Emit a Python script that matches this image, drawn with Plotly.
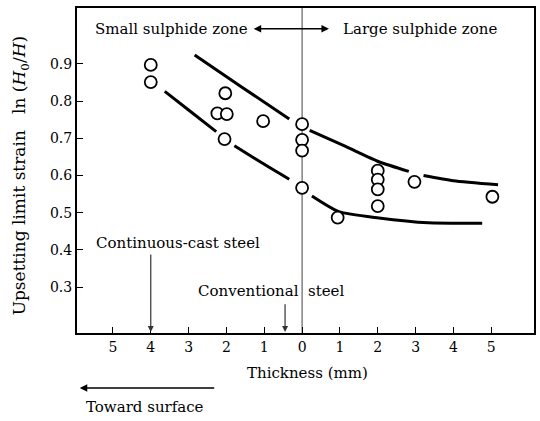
import plotly.graph_objects as go

# ---- data (thickness in mm; negative = toward surface side) ----
pts_x = [-4.0, -4.0, -2.03, -2.24, -1.99, -1.03, -2.05, 0.0, 0.0, 0.0, 0.0,
         0.94, 2.0, 2.0, 2.0, 2.0, 2.97, 5.03]
pts_y = [0.897, 0.851, 0.821, 0.767, 0.765, 0.746, 0.698, 0.738, 0.696, 0.667, 0.567,
         0.487, 0.613, 0.589, 0.563, 0.518, 0.583, 0.543]

# fitted band curves (None = break in the printed line next to a circle)
upper_x = [-2.84, -1.6, -0.34, None, 0.2, 1.15, 2.03, 2.82, None, 3.21, 4.0, 5.18]
upper_y = [0.924, 0.838, 0.752, None, 0.721, 0.678, 0.637, 0.611, None, 0.600, 0.586, 0.575]

lower_x = [-3.63, -2.95, -2.27, None, -1.79, -0.87, -0.34, None, 0.26, 0.97, 2.03, 3.34, 4.76]
lower_y = [0.826, 0.772, 0.718, None, 0.680, 0.622, 0.590, None, 0.545, 0.503, 0.486, 0.473, 0.472]

x_ticks = [-5, -4, -3, -2, -1, 0, 1, 2, 3, 4, 5]
x_ticktext = ["5", "4", "3", "2", "1", "0", "1", "2", "3", "4", "5"]
y_ticks = [0.3, 0.4, 0.5, 0.6, 0.7, 0.8, 0.9]
y_ticktext = ["0.3", "0.4", "0.5", "0.6", "0.7", "0.8", "0.9"]

FONT = "DejaVu Serif"
fig = go.Figure()

fig.add_trace(go.Scatter(x=upper_x, y=upper_y, mode="lines", connectgaps=False,
                         line=dict(color="black", width=3, shape="spline", smoothing=0.6),
                         hoverinfo="skip", showlegend=False))
fig.add_trace(go.Scatter(x=lower_x, y=lower_y, mode="lines", connectgaps=False,
                         line=dict(color="black", width=3, shape="spline", smoothing=0.6),
                         hoverinfo="skip", showlegend=False))
fig.add_trace(go.Scatter(x=pts_x, y=pts_y, mode="markers",
                         marker=dict(symbol="circle", size=12, color="white",
                                     line=dict(color="black", width=1.8)),
                         showlegend=False))

# vertical zero line
fig.add_shape(type="line", xref="x", yref="paper", x0=0, x1=0, y0=0, y1=1,
              line=dict(color="#555555", width=1.1), layer="below")

tf = dict(family=FONT, size=15, color="black")
tick_f = dict(family=FONT, size=14, color="black")
ann = []
# zone labels
ann.append(dict(x=-1.38, y=0.994, xref="x", yref="y", text="Small sulphide zone",
                showarrow=False, xanchor="right", yanchor="middle", font=tf))
ann.append(dict(x=1.02, y=0.994, xref="x", yref="y", text="Large sulphide zone",
                showarrow=False, xanchor="left", yanchor="middle", font=tf))
ann.append(dict(x=0.71, y=0.994, ax=-1.32, ay=0.994, xref="x", yref="y", axref="x", ayref="y",
                text="", showarrow=True, arrowhead=2, arrowside="end+start", arrowsize=1,
                arrowwidth=1.5, arrowcolor="black"))
# continuous-cast steel
ann.append(dict(x=-3.29, y=0.419, xref="x", yref="y", text="Continuous-cast steel",
                showarrow=False, xanchor="center", yanchor="middle", font=tf))
ann.append(dict(x=-4.0, y=0.18, ax=-4.0, ay=0.392, xref="x", yref="y", axref="x", ayref="y",
                text="", showarrow=True, arrowhead=2, arrowsize=1, arrowwidth=1.2,
                arrowcolor="#333333"))
# conventional steel
ann.append(dict(x=-0.02, y=0.29, xref="x", yref="y", text="Conventional",
                showarrow=False, xanchor="right", yanchor="middle", font=tf))
ann.append(dict(x=0.1, y=0.29, xref="x", yref="y", text="steel",
                showarrow=False, xanchor="left", yanchor="middle", font=tf))
ann.append(dict(x=-0.45, y=0.18, ax=-0.45, ay=0.258, xref="x", yref="y", axref="x", ayref="y",
                text="", showarrow=True, arrowhead=2, arrowsize=1, arrowwidth=1.2,
                arrowcolor="#333333"))
# axis titles
ann.append(dict(x=0.505, y=-0.123, xref="paper", yref="paper", text="Thickness (mm)",
                showarrow=False, xanchor="center", yanchor="middle", font=tf))
ann.append(dict(x=-0.124, y=0.483, xref="paper", yref="paper",
                text="Upsetting limit strain   ln (<i>H</i><sub>0</sub>/<i>H</i>)",
                textangle=-90, showarrow=False, xanchor="center", yanchor="middle",
                font=dict(family=FONT, size=17, color="black")))
# toward surface
ann.append(dict(x=0.006, y=-0.169, ax=136, ay=0, xref="paper", yref="paper",
                axref="pixel", ayref="pixel", text="", showarrow=True, arrowhead=2,
                arrowsize=1, arrowwidth=1.5, arrowcolor="black"))
ann.append(dict(x=0.148, y=-0.228, xref="paper", yref="paper", text="Toward surface",
                showarrow=False, xanchor="center", yanchor="middle", font=tf))

fig.update_layout(
    width=540, height=421,
    margin=dict(l=77, r=4, t=8, b=88),
    plot_bgcolor="white", paper_bgcolor="white",
    font=tf,
    annotations=ann,
    xaxis=dict(range=[-5.95, 6.13], tickvals=x_ticks, ticktext=x_ticktext,
               showline=True, mirror=True, linecolor="black", linewidth=2,
               ticks="inside", ticklen=6, tickcolor="black", showgrid=False, zeroline=False,
               tickfont=tick_f),
    yaxis=dict(range=[0.177, 1.05], tickvals=y_ticks, ticktext=y_ticktext,
               showline=True, mirror=True, linecolor="black", linewidth=2,
               ticks="inside", ticklen=6, tickcolor="black", showgrid=False, zeroline=False,
               tickfont=tick_f),
)

fig.write_html("out.html", config={"displayModeBar": False},
               post_script="document.body.style.margin='0';document.body.style.padding='0';")
